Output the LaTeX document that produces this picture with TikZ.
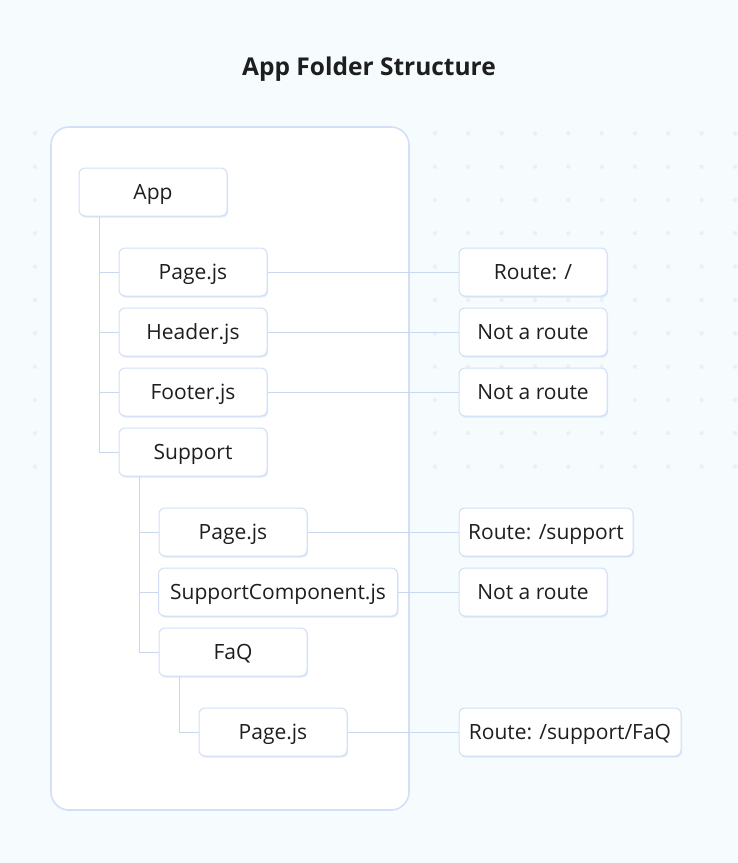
\documentclass[tikz,border=0pt]{standalone}
\usepackage{fontspec}
\setmainfont{Open Sans}
\usepackage{tikz}
\usetikzlibrary{positioning,shadows,calc}
\usepackage{xcolor}

\definecolor{bgcol}{HTML}{F6FBFD}
\definecolor{edgecol}{HTML}{D2DFF6}
\definecolor{linecol}{HTML}{C9D8EE}
\definecolor{dotcol}{HTML}{E9F0F6}
\definecolor{txtcol}{HTML}{1E1E1E}

\begin{document}
\begin{tikzpicture}[
    x=1pt, y=-1pt,
    node distance=11pt,
    item/.style={rectangle, rounded corners=6pt, draw=edgecol, fill=white, line width=1pt, minimum width=148pt, minimum height=48pt, text height=15pt, text depth=0pt, text centered, text=txtcol, font=\fontsize{21}{24}\selectfont, drop shadow={shadow xshift=1pt, shadow yshift=-1.5pt, fill=edgecol, opacity=0.7}},
    route/.style={item},
    link/.style={draw=linecol, line width=0.8pt},
    tree/.style={draw=linecol, line width=0.8pt}
]

% Background and dot grid
\useasboundingbox (0,0) rectangle (738,863);
\fill[bgcol] (0,0) rectangle (738,863);
\foreach \i in {0,...,21}
  \foreach \j in {4,...,14}
    \fill[dotcol] (35+33.33*\i, 33.33*\j) circle (2.2pt);

% Title
\node (title) at (369,69) {\fontsize{24.5}{28}\selectfont\bfseries\color{txtcol} App Folder Structure};

% Folder panel
\draw[edgecol, fill=white, line width=1.6pt, rounded corners=18pt] (51,127) rectangle (409,810);

% Folder tree
\node (app) [item] at (153,192) {App};
\node (page) [item] at (193,272) {Page.js};
\node (header) [item, below=of page] {Header.js};
\node (footer) [item, below=of header] {Footer.js};
\node (support) [item, below=of footer] {Support};
\node (spage) [item] at (233,532) {Page.js};
\node (scomp) [item, minimum width=239pt] at (278,592) {SupportComponent.js};
\node (faq) [item] at (233,652) {FaQ};
\node (fpage) [item] at (273,732) {Page.js};

% Routes
\node (r1) [route] at (533,272) {Route: /};
\node (r2) [route, below=of r1] {Not a route};
\node (r3) [route, below=of r2] {Not a route};
\node (r4) [route, minimum width=174pt] at (546,532) {Route: /support};
\node (r5) [route] at (533,592) {Not a route};
\node (r6) [route, minimum width=222pt] at (570,732) {Route: /support/FaQ};

% Tree lines
\draw[tree] (app.south -| 99,0) |- (support.west);
\foreach \n in {page,header,footer}
  \draw[tree] (99,0 |- \n.west) -- (\n.west);
\draw[tree] (support.south -| 139,0) |- (faq.west);
\foreach \n in {spage,scomp}
  \draw[tree] (139,0 |- \n.west) -- (\n.west);
\draw[tree] (faq.south -| 179,0) |- (fpage.west);

% Links to routes
\draw[link] (page.east) -- (r1.west);
\draw[link] (header.east) -- (r2.west);
\draw[link] (footer.east) -- (r3.west);
\draw[link] (spage.east) -- (r4.west);
\draw[link] (scomp.east) -- (r5.west);
\draw[link] (fpage.east) -- (r6.west);

\end{tikzpicture}
\end{document}
